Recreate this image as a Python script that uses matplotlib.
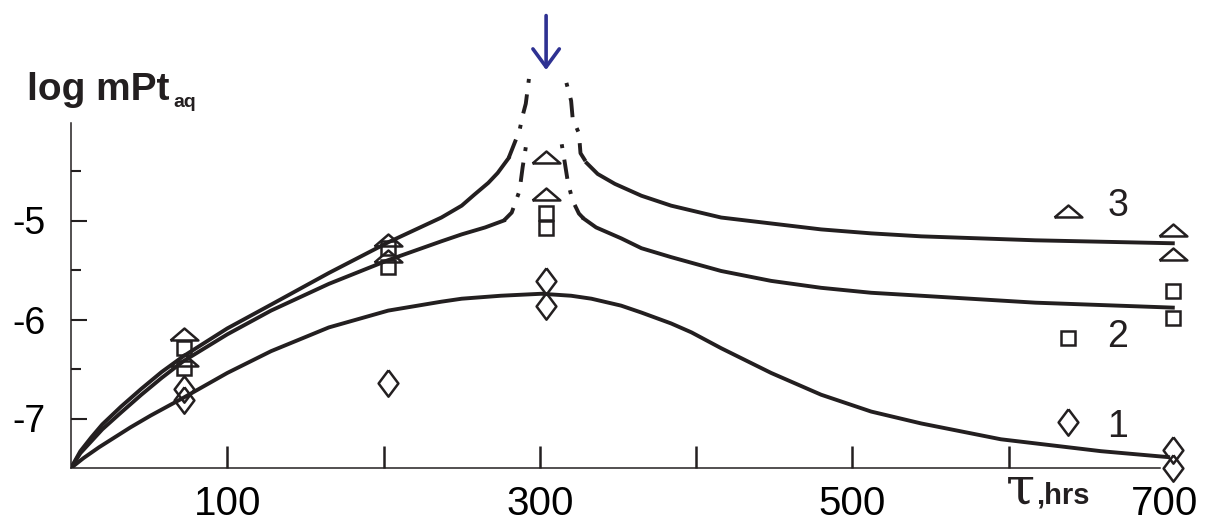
import numpy as np
import matplotlib
matplotlib.use('Agg')
import matplotlib.pyplot as plt
from matplotlib.ticker import FixedLocator

# Curves (tau in hrs, log mPt_aq)
c1_x = [0, 8, 18, 38, 51, 72, 100, 128, 165, 203, 237, 250, 275, 301, 320, 333,
        352, 365, 384, 397, 416, 448, 480, 512, 544, 595, 659, 702]
c1_y = [-7.5, -7.40, -7.29, -7.09, -6.97, -6.79, -6.54, -6.32, -6.08, -5.91, -5.82,
        -5.79, -5.76, -5.74, -5.76, -5.79, -5.86, -5.93, -6.04, -6.13, -6.29, -6.54,
        -6.76, -6.93, -7.05, -7.21, -7.33, -7.39]

c2_x = [0, 6, 13, 20, 32, 45, 58, 72, 100, 128, 165, 203, 237, 250, 265, 277,
        282, 287, 289, 291,
        314, 316, 318, 321, 325, 328, 336, 352, 365, 384, 416, 448, 480, 512, 544,
        617, 705]
c2_y = [-7.5, -7.35, -7.23, -7.11, -6.94, -6.76, -6.59, -6.42, -6.15, -5.91, -5.64,
        -5.40, -5.21, -5.14, -5.07, -5.0,
        -4.92, -4.70, -4.46, -4.26,
        -4.23, -4.42, -4.62, -4.80, -4.93, -4.98, -5.07, -5.18, -5.28, -5.37, -5.51,
        -5.61, -5.68, -5.73, -5.76, -5.83, -5.88]
c2_dash = (277, 291, 314, 328)

c3_x = [0, 6, 13, 20, 32, 45, 58, 72, 100, 128, 165, 203, 237, 250, 258, 267, 273,
        280, 287, 289, 291, 293,
        317, 320, 321, 325, 326, 330, 337, 348, 365, 384, 416, 448, 480, 512, 544,
        617, 705]
c3_y = [-7.5, -7.33, -7.19, -7.06, -6.88, -6.70, -6.53, -6.37, -6.09, -5.85, -5.53,
        -5.22, -4.97, -4.85, -4.74, -4.62, -4.52,
        -4.37, -4.09, -3.94, -3.82, -3.57,
        -3.61, -3.79, -3.97, -4.12, -4.32, -4.42, -4.53, -4.63, -4.75, -4.85, -4.97,
        -5.03, -5.09, -5.13, -5.16, -5.20, -5.23]
c3_dash = (280, 293, 317, 330)

# Measured points
dia_x = [72, 72, 203, 304, 304, 705, 705]
dia_y = [-6.70, -6.81, -6.64, -5.61, -5.86, -7.32, -7.50]
sq_x = [72, 72, 203, 203, 304, 304, 705, 705]
sq_y = [-6.29, -6.49, -5.28, -5.47, -4.92, -5.08, -5.71, -5.98]
tri_x = [72, 72, 203, 203, 304, 304, 705, 705]
tri_y = [-6.15, -6.41, -5.20, -5.36, -4.36, -4.73, -5.10, -5.34]

# Series key (markers + numbers)
key_labels = ['3', '2', '1']
key_x = 638
key_y = [-4.90, -6.19, -7.04]
key_text_x = 663
key_text_y = [-4.95, -6.28, -7.19]

x_ticks = [100, 200, 300, 400, 500, 600, 700]
x_ticklabels = ['100', '', '300', '', '500', '', '700']
y_major = [-7, -6, -5]
y_minor = [-6.5, -5.5, -4.5]

ink = '#231F20'
blue = '#2E3192'
lw = 2.8

tri_marker = [(-1, -0.43), (1, -0.43), (0, 0.43), (-1, -0.43)]
dia_marker = [(0, 1), (0.75, 0), (0, -1), (-0.75, 0), (0, 1)]

plt.rcParams['font.family'] = ['Liberation Sans', 'DejaVu Sans']

fig = plt.figure(figsize=(12.1, 5.25), dpi=100)
ax = fig.add_axes([71 / 1210, 57 / 525, 1119 / 1210, 468 / 525])
ax.set_xlim(0, 716)
ax.set_ylim(-7.5, -7.5 + 468 / 99)


def draw_curve(x, y, dash=None):
    x = np.array(x)
    y = np.array(y)
    if dash is None:
        ax.plot(x, y, color=ink, lw=lw, zorder=2, solid_joinstyle='round')
        return
    a, b, c, d = dash
    m = x <= a
    ax.plot(x[m], y[m], color=ink, lw=lw, zorder=2, solid_joinstyle='round')
    m = x >= d
    ax.plot(x[m], y[m], color=ink, lw=lw, zorder=2, solid_joinstyle='round')
    # dashed branches drawn from the peak outward
    m = (x >= a) & (x <= b)
    ax.plot(x[m][::-1], y[m][::-1], color=ink, lw=lw, zorder=2,
            linestyle=(0, (1, 3, 5, 3)))
    m = (x >= c) & (x <= d)
    ax.plot(x[m], y[m], color=ink, lw=lw, zorder=2,
            linestyle=(0, (1, 3, 5, 3)))


draw_curve(c1_x, c1_y)
draw_curve(c2_x, c2_y, c2_dash)
draw_curve(c3_x, c3_y, c3_dash)

mk = dict(linestyle='none', markerfacecolor='none', markeredgecolor=ink,
          markeredgewidth=1.8, zorder=3, clip_on=False)
ax.plot(dia_x, dia_y, marker=dia_marker, markersize=19, **mk)
ax.plot(sq_x, sq_y, marker='s', markersize=10.5, **mk)
ax.plot(tri_x, tri_y, marker=tri_marker, markersize=20, **mk)

# key
ax.plot([key_x], [key_y[0]], marker=tri_marker, markersize=20, **mk)
ax.plot([key_x], [key_y[1]], marker='s', markersize=10.5, **mk)
ax.plot([key_x], [key_y[2]], marker=dia_marker, markersize=19, **mk)
for lab, ty in zip(key_labels, key_text_y):
    ax.text(key_text_x, ty, lab, fontsize=27, color=ink, va='baseline', ha='left')

# arrow marking the peak
ax.annotate('', xy=(304, -3.48), xytext=(304, -2.93),
            arrowprops=dict(arrowstyle='->, head_length=1.3, head_width=0.95',
                            color=blue, lw=2.6, shrinkA=0, shrinkB=0))

# axes styling
for s in ['top', 'right']:
    ax.spines[s].set_visible(False)
for s in ['left', 'bottom']:
    ax.spines[s].set_linewidth(1.1)
    ax.spines[s].set_color(ink)
ax.spines['left'].set_bounds(-7.5, -4.02)
ax.spines['bottom'].set_bounds(0, 697)

ax.xaxis.set_major_locator(FixedLocator(x_ticks))
ax.set_xticklabels(x_ticklabels)
ax.xaxis.get_major_ticks()[-1].tick1line.set_visible(False)
ax.tick_params(axis='x', direction='in', length=16, width=1.8, color=ink,
               labelsize=29, pad=12)

ax.yaxis.set_major_locator(FixedLocator(y_major))
ax.yaxis.set_minor_locator(FixedLocator(y_minor))
ax.set_yticklabels(['-7', '-6', '-5'])
ax.tick_params(axis='y', which='major', direction='in', length=11.5, width=1.5,
               color=ink, labelsize=27, pad=18)
ax.tick_params(axis='y', which='minor', direction='in', length=7, width=1.5,
               color=ink)

# axis titles
fig.text(27 / 1210, 1 - 100 / 525, 'log mPt', fontsize=28, fontweight='bold',
         va='baseline', ha='left', color=ink)
fig.text(173 / 1210, 1 - 107 / 525, 'aq', fontsize=14, fontweight='bold',
         va='baseline', ha='left', color=ink)
fig.text(1006 / 1210, 1 - 503 / 525, 'τ', fontsize=38, family='DejaVu Serif',
         va='baseline', ha='left', color=ink)
fig.text(1036 / 1210, 1 - 503 / 525, ',hrs', fontsize=21, fontweight='bold',
         va='baseline', ha='left', color=ink)

fig.savefig('out.png', dpi=100)
